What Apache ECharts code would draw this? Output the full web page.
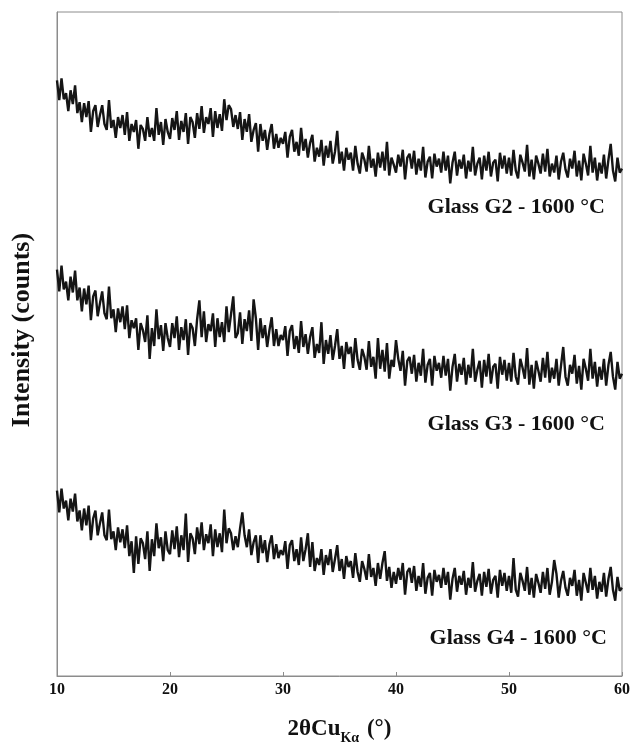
<!DOCTYPE html>
<html>
<head>
<meta charset="utf-8">
<script src="https://cdn.jsdelivr.net/npm/echarts@6/dist/echarts.min.js"></script>
<style>
html,body{margin:0;padding:0;background:#fff;}
#chart{width:633px;height:750px;}
</style>
</head>
<body>
<div id="chart"></div>
<script>
// 2θ sampling: start and step of the recorded scans (degrees)
const angleStart = 10;
const angleStep = 0.2;
const xTicks = [10, 20, 30, 40, 50, 60];
const seriesNames = ['Glass G2 - 1600 °C', 'Glass G3 - 1600 °C', 'Glass G4 - 1600 °C'];

// Intensity (arbitrary counts, offset stacked), one value per 0.2°
const g2 = [
601,581,603,582,588,570,591,577,596,568,
579,559,578,564,580,549,570,576,554,566,
576,557,551,581,553,561,543,564,553,566,
546,569,540,557,549,561,532,556,552,540,
564,544,553,540,573,546,559,536,562,549,
542,563,551,570,541,560,549,568,537,564,
559,543,568,552,575,548,564,557,573,544,
570,553,567,550,582,561,576,572,554,566,
552,569,541,562,549,567,539,551,558,529,
557,540,551,531,547,557,532,547,533,543,
537,549,523,544,551,529,539,525,553,530,
542,523,538,546,519,533,524,541,515,535,
523,540,517,529,550,517,529,510,533,521,
528,510,535,517,507,528,521,509,535,513,
522,504,528,513,529,510,539,505,523,516,
508,526,514,531,501,523,527,512,530,506,
522,510,534,503,519,524,502,527,514,522,
508,529,510,525,497,518,529,505,521,512,
526,502,520,509,534,505,517,523,501,525,
510,529,504,518,521,499,528,512,525,507,
523,505,531,510,502,526,518,509,536,504,
521,501,525,517,507,527,509,532,504,517,
508,525,501,519,528,511,503,522,512,530,
504,520,500,527,517,505,535,508,523,500,
518,507,526,502,521,537,510,499,523,508,
512
];
const g3 = [
410,388,414,390,398,379,403,387,409,379,
392,368,391,375,394,359,383,389,363,376,
388,366,360,393,361,370,347,371,357,373,
350,374,341,359,351,361,329,356,349,337,
364,320,351,333,370,340,354,328,356,341,
332,356,341,363,329,352,339,360,324,356,
351,333,360,379,342,368,337,355,348,366,
332,361,342,357,337,373,347,365,383,341,
346,367,335,360,348,369,338,380,361,329,
361,341,354,332,349,362,333,350,333,344,
339,353,323,348,354,330,343,326,358,332,
345,325,342,352,321,335,326,357,315,339,
325,344,319,333,350,320,333,310,337,325,
332,311,341,319,309,330,322,309,338,312,
322,300,341,310,329,307,336,300,319,312,
339,320,308,328,293,318,322,305,324,297,
316,303,330,296,314,320,293,323,308,316,
301,323,303,320,288,312,325,297,315,304,
321,294,314,301,330,297,309,318,291,319,
302,325,295,312,315,290,322,304,319,298,
316,297,326,302,294,320,311,300,331,294,
314,290,318,308,297,321,301,327,296,311,
300,320,293,313,332,302,293,314,305,324,
295,313,289,320,310,298,330,300,317,292,
312,299,320,293,314,327,302,289,317,300,
305
];
const g4 = [
187,165,189,169,177,157,179,166,184,156,
167,147,169,152,172,137,159,167,142,154,
165,142,137,168,138,146,127,150,135,148,
129,152,121,136,104,141,113,139,134,118,
146,106,138,121,154,129,140,116,146,127,
123,147,128,151,120,142,127,164,115,144,
139,123,150,133,155,127,143,134,153,121,
148,130,144,125,168,134,149,144,127,141,
130,149,165,142,130,148,122,135,142,114,
142,124,137,115,133,142,118,133,119,127,
122,136,108,132,137,116,128,112,140,116,
128,144,110,135,106,119,112,128,102,122,
112,128,105,118,132,106,118,98,121,110,
116,99,124,105,95,116,108,97,123,100,
109,91,114,98,114,126,96,110,89,105,
93,109,97,114,82,105,109,94,111,86,
101,90,114,83,99,104,81,107,95,102,
89,109,92,105,77,98,109,85,101,92,
106,82,99,89,115,85,96,103,81,105,
90,108,83,97,101,79,107,91,104,86,
101,84,119,87,80,104,96,86,110,82,
99,79,103,94,84,105,88,109,82,95,
117,103,79,96,106,89,81,99,91,107,
81,97,76,104,94,84,109,87,101,78,
95,85,104,80,98,110,87,76,100,86,
89
];

function toPairs(arr) {
  return arr.map((v, i) => [+(angleStart + i * angleStep).toFixed(2), v]);
}

const serif = '"Liberation Serif", "Times New Roman", serif';
const chart = echarts.init(document.getElementById('chart'), null, {renderer: 'canvas'});

function mkSeries(name, arr) {
  return {
    name: name, type: 'line', data: toPairs(arr), showSymbol: false, symbol: 'none',
    lineStyle: {color: '#151515', width: 2.4, join: 'miter', miterLimit: 2},
    sampling: null, animation: false, silent: true
  };
}

chart.setOption({
  animation: false,
  backgroundColor: '#fff',
  grid: {left: 57, right: 9, top: 12, bottom: 68, show: true, borderColor: '#8c8c8c', borderWidth: 1, backgroundColor: 'transparent'},
  xAxis: {
    type: 'value', min: 10, max: 60, interval: 10,
    axisLine: {show: true, lineStyle: {color: '#8c8c8c', width: 1}},
    axisTick: {show: true, inside: true, length: 4, lineStyle: {color: '#8c8c8c'}},
    splitLine: {show: false},
    axisLabel: {color: '#111', fontFamily: serif, fontWeight: 'bold', fontSize: 16, margin: 6,
      formatter: v => xTicks.includes(v) ? String(v) : ''},
    name: '{a|2θCu}{b|Kα}{a| (°)}',
    nameLocation: 'middle', nameGap: 42,
    nameTextStyle: {
      rich: {
        a: {fontFamily: serif, fontWeight: 'bold', fontSize: 23, color: '#111', lineHeight: 24, verticalAlign: 'top'},
        b: {fontFamily: serif, fontWeight: 'bold', fontSize: 14, color: '#111', lineHeight: 14, verticalAlign: 'top', padding: [13, 2, 0, 0]}
      }
    }
  },
  yAxis: {
    type: 'value', min: 0, max: 670,
    axisLine: {show: true, lineStyle: {color: '#8c8c8c'}},
    axisTick: {show: false}, axisLabel: {show: false}, splitLine: {show: false}
  },
  series: [mkSeries(seriesNames[0], g2), mkSeries(seriesNames[1], g3), mkSeries(seriesNames[2], g4)],
  graphic: [
    {type: 'text', x: 605, y: 207, style: {text: seriesNames[0], font: 'bold 22px ' + serif, fill: '#111', textAlign: 'right', textVerticalAlign: 'middle'}},
    {type: 'text', x: 605, y: 424, style: {text: seriesNames[1], font: 'bold 22px ' + serif, fill: '#111', textAlign: 'right', textVerticalAlign: 'middle'}},
    {type: 'text', x: 607, y: 638, style: {text: seriesNames[2], font: 'bold 22px ' + serif, fill: '#111', textAlign: 'right', textVerticalAlign: 'middle'}},
    {type: 'text', x: 22, y: 330, rotation: Math.PI / 2, style: {text: 'Intensity (counts)', font: 'bold 26px ' + serif, fill: '#111', textAlign: 'center', textVerticalAlign: 'middle'}}
  ]
});
</script>
</body>
</html>
